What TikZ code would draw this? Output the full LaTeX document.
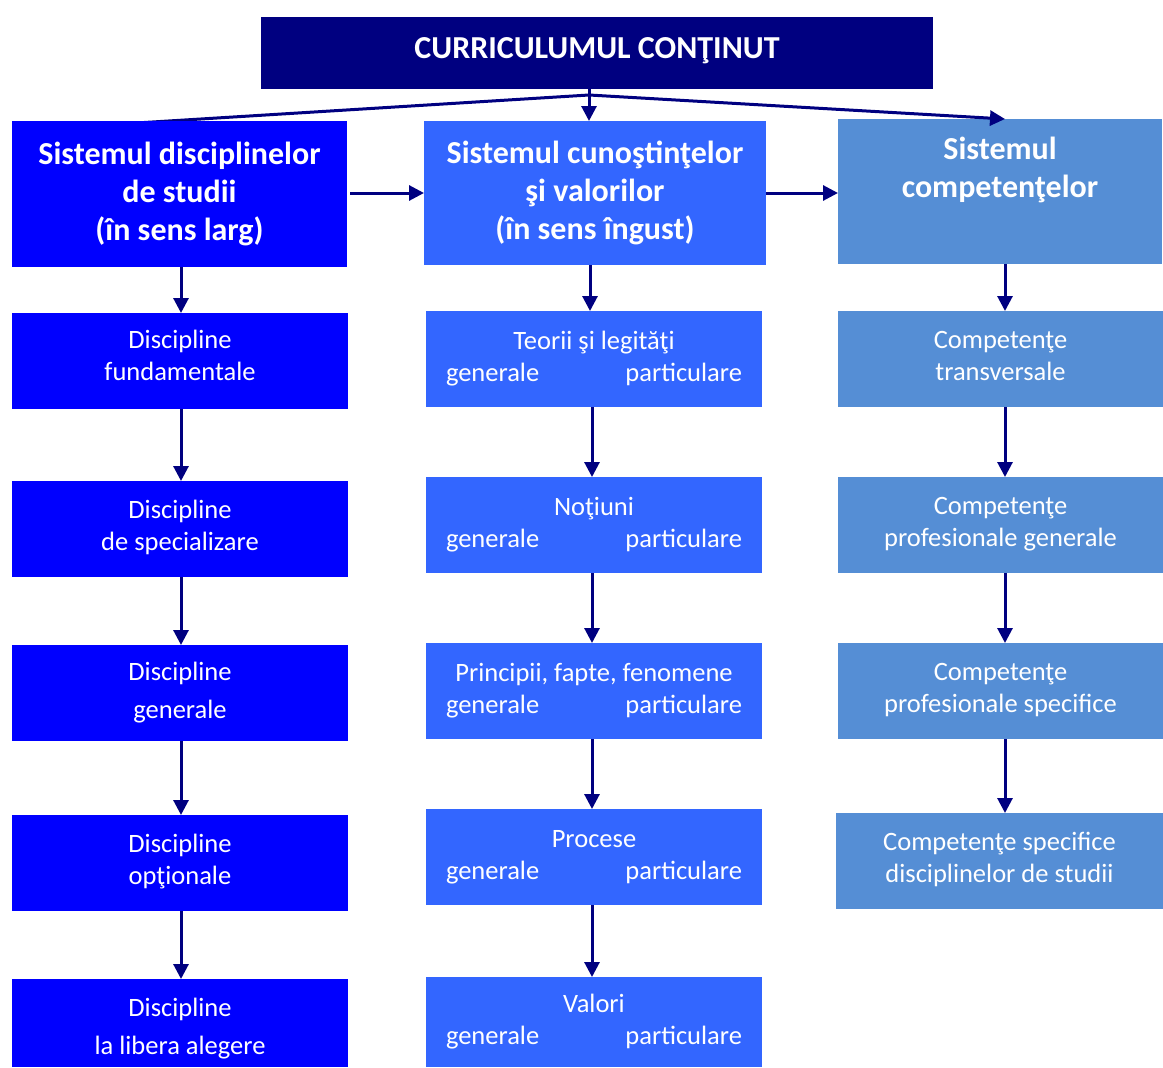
\documentclass[tikz,border=0pt]{standalone}
\usepackage{fontspec}
\setmainfont{Carlito}
\usetikzlibrary{arrows.meta}
\definecolor{topc}{HTML}{000080}
\definecolor{c1}{HTML}{0000FF}
\definecolor{c2}{HTML}{3366FF}
\definecolor{c3}{HTML}{558ED5}
\definecolor{arr}{HTML}{000080}
\pgfdeclarelayer{bg}
\pgfsetlayers{bg,main}
\newcommand{\shifttext}[2]{\raisebox{#1}[\height][\depth]{\begin{tabular}{@{}c@{}}#2\end{tabular}}}
\newcommand{\gpline}{\makebox[296pt]{generale\hfill particulare}}
\begin{document}
\begin{tikzpicture}[x=1pt,y=-1pt,
  box/.style={rectangle,inner sep=0pt,outer sep=0pt,text=white,align=center},
  hd/.style={box,font=\fontsize{32}{38}\selectfont\bfseries},
  it/.style={box,font=\fontsize{26.5}{32}\selectfont},
  b1/.style={fill=c1,minimum width=336pt,minimum height=96pt},
  b2/.style={fill=c2,minimum width=336pt,minimum height=96pt},
  b3/.style={fill=c3,minimum width=325pt,minimum height=96pt},
  con/.style={draw=arr,line width=3pt,-{Triangle[length=15pt,width=15pt]}}]
\useasboundingbox (0,0) rectangle (1163,1068);
% title
\node[box,fill=topc,minimum width=672pt,minimum height=72pt,font=\fontsize{32}{34}\selectfont\bfseries] (top) at (597,53) {\raisebox{9pt}{CURRICULUMUL CONŢINUT}};
\coordinate (hub) at (589,95);
% headers
\node[hd,fill=c1,minimum width=335pt,minimum height=146pt] (h1) at (179.5,194) {Sistemul disciplinelor\\de studii\\(în sens larg)};
\node[hd,fill=c2,minimum width=342pt,minimum height=144pt] (h2) at (595,193) {Sistemul cunoştinţelor\\şi valorilor\\(în sens îngust)};
\node[hd,fill=c3,minimum width=324pt,minimum height=145pt] (h3) at (1000,191.5) {Sistemul\\competenţelor\\\strut};
% column 1
\node[it,b1] (a1) at (180,361) {\shifttext{3pt}{Discipline\\fundamentale}};
\node[it,b1] (a2) at (180,529) {\shifttext{1pt}{Discipline\\de specializare}};
\node[it,b1] (a3) at (180,693) {Discipline\\[6pt]generale};
\node[it,b1] (a4) at (180,863) {\shifttext{1pt}{Discipline\\opţionale}};
\node[it,b1,minimum height=88pt] (a5) at (180,1023) {\shifttext{-6pt}{Discipline\\[6pt]la libera alegere}};
% column 2
\node[it,b2] (m1) at (594,359) {Teorii şi legităţi\\\gpline};
\node[it,b2] (m2) at (594,525) {Noţiuni\\\gpline};
\node[it,b2] (m3) at (594,691) {Principii, fapte, fenomene\\\gpline};
\node[it,b2] (m4) at (594,857) {Procese\\\gpline};
\node[it,b2,minimum height=90pt] (m5) at (594,1022) {Valori\\\gpline};
% column 3
\node[it,b3] (r1) at (1000.5,359) {\shifttext{1pt}{Competenţe\\transversale}};
\node[it,b3] (r2) at (1000.5,525) {\shifttext{1pt}{Competenţe\\profesionale generale}};
\node[it,b3] (r3) at (1000.5,691) {\shifttext{1pt}{Competenţe\\profesionale specifice}};
\node[it,b3,minimum width=327pt] (r4) at (999.5,861) {\shifttext{1pt}{Competenţe specifice\\disciplinelor de studii}};
% connectors
\begin{pgfonlayer}{bg}
\draw[con,-] (hub) -- ([xshift=-100pt,yshift=-5.5pt]h1.north);
\end{pgfonlayer}
\draw[con] (top.south -| hub) -- (h2.north -| hub);
\draw[con] (hub) -- ([xshift=5pt]h3.north);
\draw[con] ([xshift=3pt]h1.east |- 0,193) -- (h2.west |- 0,193);
\draw[con] (h2.east |- 0,193) -- (h3.west |- 0,193);
\draw[con] (h1.south -| 181,0) -- (a1.north -| 181,0);
\draw[con] (a1.south -| 181,0) -- (a2.north -| 181,0);
\draw[con] (a2.south -| 181,0) -- (a3.north -| 181,0);
\draw[con] (a3.south -| 181,0) -- (a4.north -| 181,0);
\draw[con] (a4.south -| 181,0) -- (a5.north -| 181,0);
\draw[con] (h2.south -| 590,0) -- (m1.north -| 590,0);
\draw[con] (m1.south -| 592,0) -- (m2.north -| 592,0);
\draw[con] (m2.south -| 592,0) -- (m3.north -| 592,0);
\draw[con] (m3.south -| 592,0) -- (m4.north -| 592,0);
\draw[con] (m4.south -| 592,0) -- (m5.north -| 592,0);
\draw[con] (h3.south -| 1005,0) -- (r1.north -| 1005,0);
\draw[con] (r1.south -| 1005,0) -- (r2.north -| 1005,0);
\draw[con] (r2.south -| 1005,0) -- (r3.north -| 1005,0);
\draw[con] (r3.south -| 1005,0) -- (r4.north -| 1005,0);
\end{tikzpicture}
\end{document}
